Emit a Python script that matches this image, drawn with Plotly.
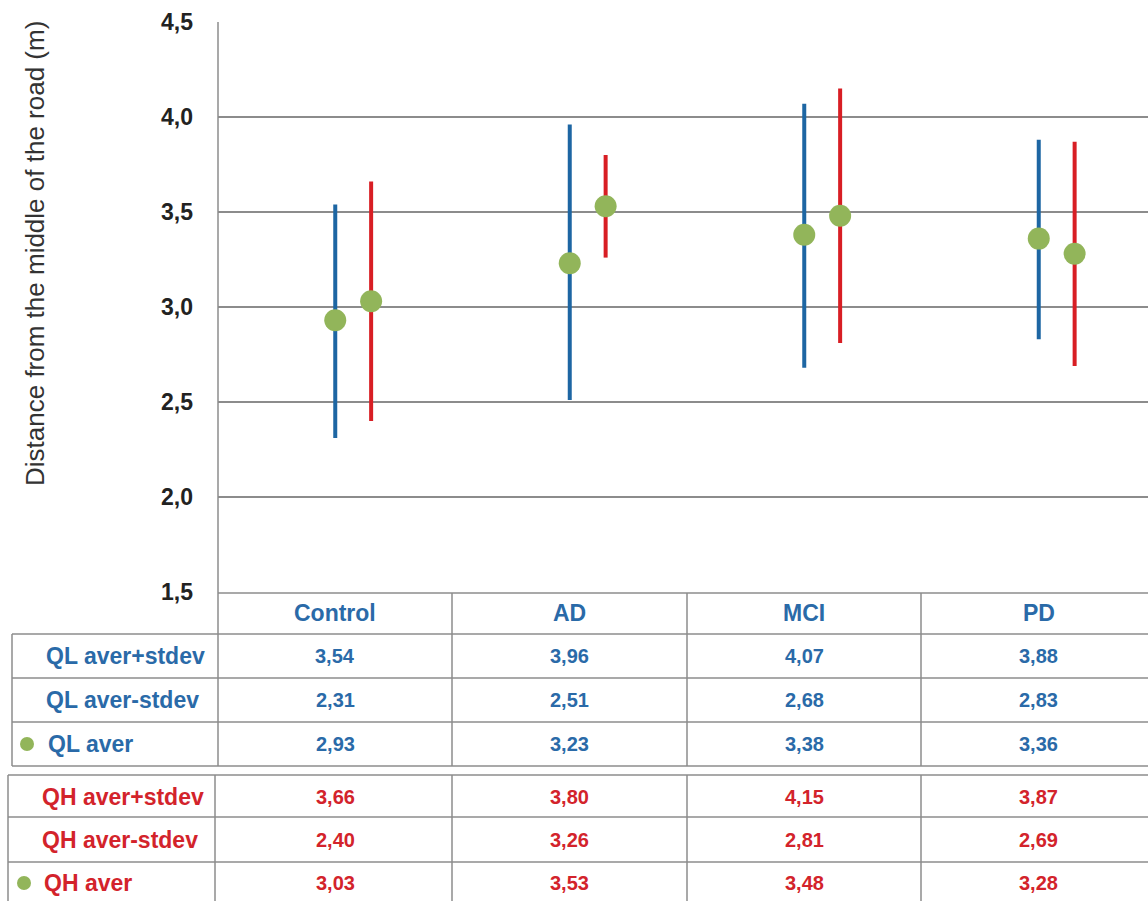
import plotly.graph_objects as go

# ---- data -------------------------------------------------------------
categories = ["Control", "AD", "MCI", "PD"]
ql_high = [3.54, 3.96, 4.07, 3.88]
ql_low = [2.31, 2.51, 2.68, 2.83]
ql_aver = [2.93, 3.23, 3.38, 3.36]
qh_high = [3.66, 3.80, 4.15, 3.87]
qh_low = [2.40, 3.26, 2.81, 2.69]
qh_aver = [3.03, 3.53, 3.48, 3.28]
row_labels = ["QL aver+stdev", "QL aver-stdev", "QL aver",
              "QH aver+stdev", "QH aver-stdev", "QH aver"]
y_title = "Distance from the middle of the road (m)"

# ---- styling ----------------------------------------------------------
W, H = 1148, 901
PL, PR, PT, PB = 218, 1148, 22, 592          # plot area in pixels
BLUE_LINE, RED_LINE = "#1d66a3", "#d81e24"
BLUE_TXT, RED_TXT = "#2a6aa8", "#d3232b"
GREEN = "#92b55a"
GRID = "#8c8c8c"
FONT = "Liberation Sans, Arial, sans-serif"
QH_SHIFT = 0.153                              # QH whisker offset from category centre


def px_x(p):
    return (p - PL) / (PR - PL)


def px_y(p):
    return (PB - p) / (PB - PT)


def fmt(v):
    return f"{v:.2f}".replace(".", ",")


fig = go.Figure()

xs = list(range(len(categories)))
for shift, hi, lo, av, col in [(0.0, ql_high, ql_low, ql_aver, BLUE_LINE),
                               (QH_SHIFT, qh_high, qh_low, qh_aver, RED_LINE)]:
    fig.add_trace(go.Scatter(
        x=[x + shift for x in xs], y=av, mode="markers",
        marker=dict(size=22, color=GREEN, line=dict(width=0)),
        error_y=dict(type="data", symmetric=False,
                     array=[h - a for h, a in zip(hi, av)],
                     arrayminus=[a - l for a, l in zip(av, lo)],
                     width=0, thickness=4, color=col),
        showlegend=False, cliponaxis=False,
    ))

shapes = []
line = dict(color=GRID, width=1.5)

# vertical axis line running down through the table
shapes.append(dict(type="line", xref="paper", yref="paper",
                   x0=0, x1=0, y0=px_y(PT), y1=px_y(766), line=line))
shapes.append(dict(type="line", xref="paper", yref="paper",
                   x0=px_x(215), x1=px_x(215), y0=px_y(775), y1=px_y(901), line=line))

# table horizontal rules
h_rules = [(PL, 593), (12, 634), (12, 678), (12, 722), (12, 766),
           (8, 775), (8, 817), (8, 862)]
for x_start, yy in h_rules:
    shapes.append(dict(type="line", xref="paper", yref="paper",
                       x0=px_x(x_start), x1=1, y0=px_y(yy), y1=px_y(yy), line=line))

# table vertical rules
for xx in [452, 687, 921]:
    for y0, y1 in [(593, 766), (775, 901)]:
        shapes.append(dict(type="line", xref="paper", yref="paper",
                           x0=px_x(xx), x1=px_x(xx), y0=px_y(y0), y1=px_y(y1), line=line))
shapes.append(dict(type="line", xref="paper", yref="paper",
                   x0=px_x(12), x1=px_x(12), y0=px_y(634), y1=px_y(766), line=line))
shapes.append(dict(type="line", xref="paper", yref="paper",
                   x0=px_x(8), x1=px_x(8), y0=px_y(775), y1=px_y(901), line=line))

# green dots beside the average rows
for cx, cy in [(27, 744), (24, 883)]:
    shapes.append(dict(type="circle", xref="paper", yref="paper",
                       x0=px_x(cx - 7), x1=px_x(cx + 7), y0=px_y(cy - 7), y1=px_y(cy + 7),
                       fillcolor=GREEN, line=dict(width=0)))

annotations = []
# category header
for i, c in enumerate(categories):
    annotations.append(dict(x=i, xref="x", y=px_y(613), yref="paper", text=c,
                            showarrow=False, xanchor="center", yanchor="middle",
                            font=dict(family=FONT, size=23, color=BLUE_TXT, weight="bold")))

rows = [ql_high, ql_low, ql_aver, qh_high, qh_low, qh_aver]
row_y = [656, 700, 744, 797, 840, 883]
row_x = [44, 44, 46, 40, 40, 42]
for r, (vals, yy, lx, lab) in enumerate(zip(rows, row_y, row_x, row_labels)):
    col = BLUE_TXT if r < 3 else RED_TXT
    annotations.append(dict(x=px_x(lx), xref="paper", y=px_y(yy), yref="paper", text=lab,
                            showarrow=False, xanchor="left", yanchor="middle",
                            font=dict(family=FONT, size=23, color=col, weight="bold")))
    for i, v in enumerate(vals):
        annotations.append(dict(x=i, xref="x", y=px_y(yy), yref="paper", text=fmt(v),
                                showarrow=False, xanchor="center", yanchor="middle",
                                font=dict(family=FONT, size=20, color=col, weight="bold")))

# y-axis title
annotations.append(dict(x=px_x(35), xref="paper", y=px_y(254), yref="paper", text=y_title,
                        textangle=-90, showarrow=False, xanchor="center", yanchor="middle",
                        font=dict(family=FONT, size=26, color="#333333")))

fig.update_layout(
    width=W, height=H,
    margin=dict(l=PL, r=W - PR, t=PT, b=H - PB),
    paper_bgcolor="white", plot_bgcolor="white",
    separators=", ",
    shapes=shapes, annotations=annotations,
    xaxis=dict(range=[-0.5, -0.5 + (PR - PL) / 234.5], showgrid=False, zeroline=False,
               showticklabels=False, showline=False, ticks=""),
    yaxis=dict(range=[1.5, 4.5], tickvals=[1.5, 2.0, 2.5, 3.0, 3.5, 4.0, 4.5],
               tickformat=".1f", showgrid=True, gridcolor=GRID, gridwidth=1.5,
               zeroline=False, showline=False, ticks="", ticklabelstandoff=24,
               tickfont=dict(family=FONT, size=23, color="#222222", weight="bold")),
)

fig.write_html("out.html")
